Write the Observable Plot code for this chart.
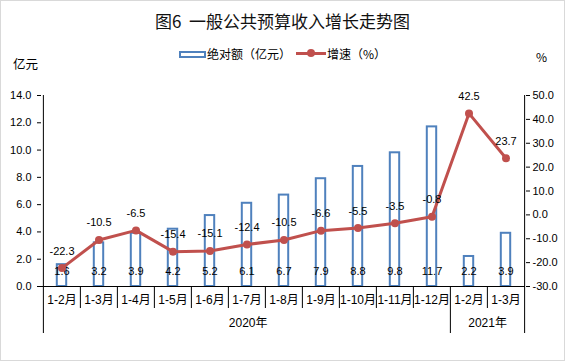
<!DOCTYPE html>
<html>
<head>
<meta charset="utf-8">
<script src="https://cdn.jsdelivr.net/npm/d3@7"></script>
<script src="https://cdn.jsdelivr.net/npm/@observablehq/plot@0.6"></script>
<style>
  html, body { margin: 0; padding: 0; background: #fff; }
  #wrap { position: relative; width: 565px; height: 361px; box-sizing: border-box; border: 1px solid #d9d9d9; background: #fff;
          font-family: "Liberation Sans", "Noto Sans CJK SC", sans-serif; color: #000; overflow: hidden; }
  #title { height: 40px; line-height: 40px; text-align: center; font-size: 17px; font-family: "Noto Sans CJK SC", sans-serif; color: #111; }
  #legend { position: relative; height: 29px; font-size: 12px; font-family: "Noto Sans CJK SC", sans-serif; }
  #legend .abs { position: absolute; }
  #legend .txt { line-height: 14px; white-space: nowrap; }
</style>
</head>
<body>
<div id="wrap">
  <div id="title">图6&nbsp;&nbsp;一般公共预算收入增长走势图</div>
  <div id="legend">
    <div class="abs txt" style="left:12px; top:16px; font-size:12.5px;">亿元</div>
    <div class="abs" style="left:178px; top:10px; width:23px; height:3px; border:2px solid #4F81BD; background:#fff;"></div>
    <div class="abs txt" style="left:206px; top:6px;">绝对额（亿元）</div>
    <div class="abs" style="left:295px; top:11px; width:30px; height:3px; background:#C0504D;"></div>
    <div class="abs" style="left:306px; top:8px; width:8px; height:8px; border-radius:50%; background:#C0504D;"></div>
    <div class="abs txt" style="left:326px; top:6px;">增速（%）</div>
    <div class="abs txt" style="left:535px; top:9px;">%</div>
  </div>
  <div id="chart"></div>
</div>
<script>
const categories = ["1-2月","1-3月","1-4月","1-5月","1-6月","1-7月","1-8月","1-9月","1-10月","1-11月","1-12月","1-2月","1-3月"];
const years = ["2020年","2020年","2020年","2020年","2020年","2020年","2020年","2020年","2020年","2020年","2020年","2021年","2021年"];
const absolute = [1.6, 3.2, 3.9, 4.2, 5.2, 6.1, 6.7, 7.9, 8.8, 9.8, 11.7, 2.2, 3.9];
const growth = [-22.3, -10.5, -6.5, -15.4, -15.1, -12.4, -10.5, -6.6, -5.5, -3.5, -0.8, 42.5, 23.7];
const leftTicks = [0, 2, 4, 6, 8, 10, 12, 14];
const rightTicks = [-30, -20, -10, 0, 10, 20, 30, 40, 50];

const yMax = 14, pMin = -30, pMax = 50;
const toY = p => (p - pMin) / (pMax - pMin) * yMax;
const fromY = v => v / yMax * (pMax - pMin) + pMin;

const W = 563, H = 290, mL = 40, mR = 39, mT = 25, mB = 74;
const keys = categories.map((c, i) => i);
const bw = (W - mL - mR) / keys.length;

const rows = categories.map((c, i) => ({key: i, cat: c, year: years[i], abs: absolute[i], g: growth[i], gy: toY(growth[i])}));

// category boundaries (left edge of each band, plus right edge of the last)
const bounds = [];
keys.forEach(i => {
  const isYear = i === 0 || years[i] !== years[i - 1];
  bounds.push({key: i, dx: -bw / 2, yearBound: isYear, edge: i === 0});
});
bounds.push({key: keys[keys.length - 1], dx: bw / 2, yearBound: true, edge: true});

// year groups
const yearGroups = [];
years.forEach((y, i) => {
  const g = yearGroups.find(d => d.year === y);
  if (g) g.last = i; else yearGroups.push({year: y, first: i, last: i});
});

const marks = [
  Plot.barY(rows, {x: "key", y: "abs", fill: "white", stroke: "#4F81BD", strokeWidth: 2, insetLeft: 13.8, insetRight: 13.8}),
  Plot.text(rows, {x: "key", y: 0, text: d => d.abs.toFixed(1), dy: -15.5, fontSize: 11, fill: "#000"}),
  Plot.ruleY([0], {stroke: "#000", strokeWidth: 1}),
  Plot.line(rows, {x: "key", y: "gy", stroke: "#C0504D", strokeWidth: 3}),
  Plot.dot(rows, {x: "key", y: "gy", r: 4, fill: "#C0504D", stroke: "none"}),
  Plot.text(rows, {x: "key", y: "gy", text: d => d.g.toFixed(1), dy: -17, fontSize: 11, fill: "#000"}),
  Plot.text(rows, {x: "key", y: 0, text: "cat", dy: 14, fontSize: 12, fill: "#000"}),
  Plot.axisY(leftTicks, {anchor: "left", tickSize: 4, tickPadding: 6, tickFormat: d => d.toFixed(1), fontSize: 11, label: null}),
  Plot.axisY(rightTicks.map(toY), {anchor: "right", tickSize: 4, tickPadding: 3, tickFormat: d => (Math.round(fromY(d) * 10) / 10 + 0).toFixed(1), fontSize: 11, label: null})
];

bounds.forEach(b => {
  marks.push(Plot.ruleX([b], {
    x: "key", dx: b.dx,
    y1: b.edge ? yMax : 0, y2: 0,
    insetBottom: b.yearBound ? -47 : -22,
    stroke: "#000", strokeWidth: 1
  }));
});

yearGroups.forEach(g => {
  marks.push(Plot.text([g], {x: d => d.first, y: 0, text: "year", dx: (g.last - g.first) / 2 * bw, dy: 37, fontSize: 12, fill: "#000"}));
});

const chart = Plot.plot({
  width: W, height: H,
  marginLeft: mL, marginRight: mR, marginTop: mT, marginBottom: mB,
  x: {domain: keys, padding: 0, axis: null},
  y: {domain: [0, yMax], axis: null, label: null},
  style: {fontFamily: '"Liberation Sans", "Noto Sans CJK SC", sans-serif', fontSize: "11px", color: "#000", background: "#fff", overflow: "visible"},
  marks
});
document.getElementById("chart").appendChild(chart);
</script>
</body>
</html>
